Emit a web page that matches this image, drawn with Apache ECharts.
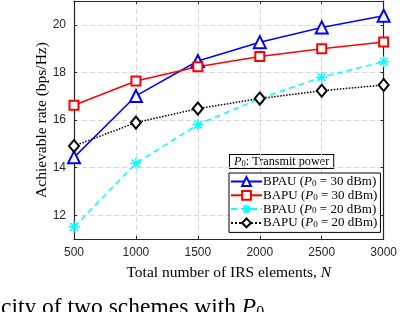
<!DOCTYPE html>
<html><head><meta charset="utf-8">
<script src="https://cdn.jsdelivr.net/npm/echarts@6/dist/echarts.min.js"></script>
<style>html,body{margin:0;padding:0;background:#fff}#c{width:400px;height:312px}</style>
</head><body><div id="c"></div>
<script>
const elements = [500, 1000, 1500, 2000, 2500, 3000];
const bpau30 = [14.43, 17.01, 18.48, 19.27, 19.89, 20.38];
const bapu30 = [16.62, 17.64, 18.24, 18.67, 18.99, 19.28];
const bpau20 = [11.51, 14.18, 15.81, 16.90, 17.80, 18.45];
const bapu20 = [14.91, 15.89, 16.48, 16.90, 17.23, 17.47];
const yTicks = [12, 14, 16, 18, 20];
const xTicks = [500, 1000, 1500, 2000, 2500, 3000];

const pair = arr => elements.map((x, i) => [x, arr[i]]);
const serif = 'Liberation Serif';
const sans = 'Liberation Sans';
const axisCol = '#262626';
const star = 'path://M0,-10L0,10M-10,0L10,0M-7,-7L7,7M-7,7L7,-7';

const mkRich = (fs) => ({
  n: {fontFamily: serif, fontSize: fs, color: '#000', lineHeight: 13},
  i: {fontFamily: serif, fontSize: fs, fontStyle: 'italic', color: '#000', lineHeight: 13},
  s: {fontFamily: serif, fontSize: fs * 0.7, color: '#000', lineHeight: 8, verticalAlign: 'bottom'}
});
const rich = mkRich(13);
const names = ['BPAU30', 'BAPU30', 'BPAU20', 'BAPU20'];
const labels = {
  BPAU30: '{n|BPAU (}{i|P}{s|0}{n| = 30 dBm)}',
  BAPU30: '{n|BAPU (}{i|P}{s|0}{n| = 30 dBm)}',
  BPAU20: '{n|BPAU (}{i|P}{s|0}{n| = 20 dBm)}',
  BAPU20: '{n|BAPU (}{i|P}{s|0}{n| = 20 dBm)}'
};

const chart = echarts.init(document.getElementById('c'), null, {renderer: 'canvas'});
const axLine = {show: true, lineStyle: {color: axisCol, width: 1.2}};
const split = {show: true, lineStyle: {color: '#d6d6d6', type: [5, 3], width: 1}};
chart.setOption({
  animation: false,
  grid: {left: 74, right: 16, top: 1, bottom: 73, containLabel: false},
  xAxis: [{
    type: 'value', min: 500, max: 3000, interval: 500,
    axisLine: axLine, axisTick: {inside: true, length: 3, lineStyle: {color: axisCol}},
    axisLabel: {fontFamily: sans, fontSize: 12, color: axisCol, margin: 8, formatter: v => String(v)},
    splitLine: split,
    name: '{n|Total number of IRS elements, }{i|N}', nameLocation: 'middle', nameGap: 26, nameMoveOverlap: false,
    nameTextStyle: {rich: {n: {fontFamily: serif, fontSize: 15.5, color: '#000'}, i: {fontFamily: serif, fontSize: 15.5, fontStyle: 'italic', color: '#000'}}}
  }, {
    type: 'value', position: 'top', min: 500, max: 3000, interval: 500,
    axisLine: axLine, axisTick: {inside: true, length: 3, lineStyle: {color: axisCol}},
    axisLabel: {show: false}, splitLine: {show: false}
  }],
  yAxis: [{
    type: 'value', min: 11, max: 21,
    axisLine: axLine,
    axisTick: {inside: true, length: 3, lineStyle: {color: axisCol}, customValues: yTicks},
    axisLabel: {fontFamily: sans, fontSize: 12, color: axisCol, margin: 8, customValues: yTicks},
    splitLine: split,
    name: 'Achievable rate (bps/Hz)', nameLocation: 'middle', nameGap: 24, nameMoveOverlap: false,
    nameTextStyle: {fontFamily: serif, fontSize: 15.5, color: '#000'}
  }, {
    type: 'value', position: 'right', min: 11, max: 21,
    axisLine: axLine,
    axisTick: {inside: true, length: 3, lineStyle: {color: axisCol}, customValues: yTicks},
    axisLabel: {show: false, customValues: yTicks}, splitLine: {show: false}
  }],
  legend: {
    orient: 'vertical', left: 229, top: 173,
    data: names,
    itemWidth: 31, itemHeight: 11, itemGap: 0.8,
    padding: [2, 3, 3, 1],
    borderColor: '#000', borderWidth: 1, backgroundColor: '#fff',
    formatter: n => labels[n],
    textStyle: {rich: rich, lineHeight: 13, padding: [0, 0, 0, -4]}
  },
  graphic: [{
    type: 'text', left: 229, top: 154,
    style: {
      text: '{i|P}{s|0}{n|: Transmit power}', rich: mkRich(12.2),
      backgroundColor: '#fff', borderColor: '#000', borderWidth: 1,
      padding: [0, 4, 0, 4]
    }
  }, {
    type: 'text', left: 1, top: 296,
    style: {
      text: '{n|city of two schemes with }{i|P}{s|0}',
      rich: {
        n: {fontFamily: serif, fontSize: 23.5, color: '#000', lineHeight: 26},
        i: {fontFamily: serif, fontSize: 23.5, fontStyle: 'italic', color: '#000', lineHeight: 26},
        s: {fontFamily: serif, fontSize: 16, color: '#000', lineHeight: 14, verticalAlign: 'bottom'}
      }
    }
  }],
  series: [{
    name: 'BPAU30', type: 'line', data: pair(bpau30),
    symbol: 'emptyTriangle', symbolSize: 12,
    lineStyle: {color: '#0000ff', width: 1.5}, itemStyle: {color: '#0000ff', borderColor: '#0000ff', borderWidth: 1.5}
  }, {
    name: 'BAPU30', type: 'line', data: pair(bapu30),
    symbol: 'emptyRect', symbolSize: 9,
    lineStyle: {color: '#ff0000', width: 1.5}, itemStyle: {color: '#ff0000', borderColor: '#ff0000', borderWidth: 1.5}
  }, {
    name: 'BPAU20', type: 'line', data: pair(bpau20),
    symbol: star, symbolSize: 11,
    lineStyle: {color: '#00ffff', width: 1.5, type: [6, 4]}, itemStyle: {color: '#00ffff', borderColor: '#00ffff', borderWidth: 1.5}
  }, {
    name: 'BAPU20', type: 'line', data: pair(bapu20),
    symbol: 'emptyDiamond', symbolSize: [10, 12],
    lineStyle: {color: '#000', width: 1.5, type: 'dotted'}, itemStyle: {color: '#000', borderColor: '#000', borderWidth: 1.5}
  }]
});
</script></body></html>
